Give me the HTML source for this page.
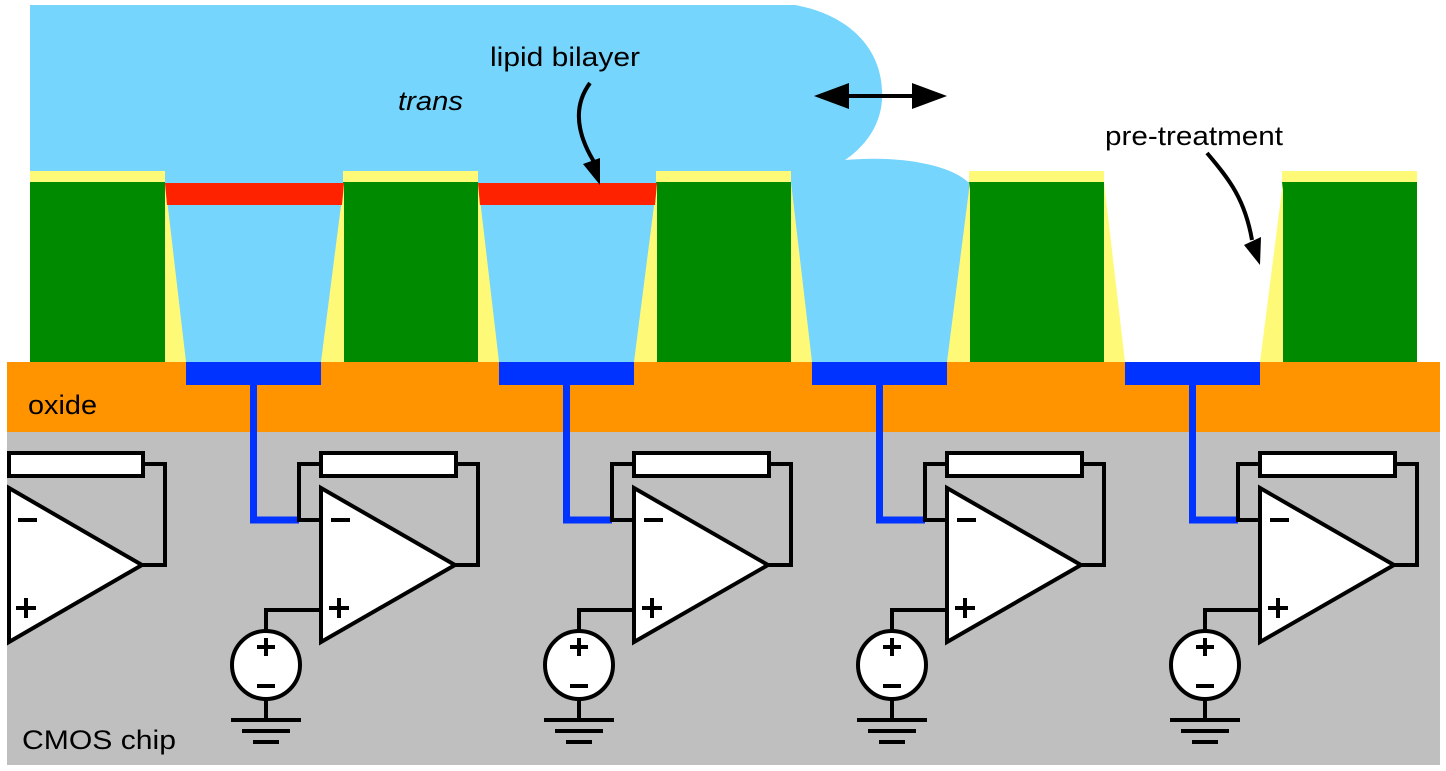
<!DOCTYPE html>
<html><head><meta charset="utf-8"><style>html,body{margin:0;padding:0;background:#fff}svg{display:block}text{font-family:"Liberation Sans",Arial,sans-serif}</style></head><body>
<svg width="1446" height="771" viewBox="0 0 1446 771" xmlns="http://www.w3.org/2000/svg">
<defs>
<g id="pillar"><rect x="30" y="171" width="135" height="12" fill="#fefa78"/><rect x="30" y="182" width="135" height="180" fill="#008a00"/></g>
<g id="wedges"><polygon points="165,182 186,362 165,362" fill="#fefa78"/><polygon points="344,182 321,362 344,362" fill="#fefa78"/><rect x="186" y="362" width="135" height="23" fill="#0033ff"/><rect x="250" y="380" width="7" height="140" fill="#0033ff"/><polyline points="253.5,385 253.5,520 299,520" fill="none" stroke="#0033ff" stroke-width="7"/></g>
<g id="amp" stroke="#000" stroke-width="4" fill="none">
<rect x="321" y="453" width="135" height="23" fill="#fff"/>
<polyline points="321,464 299,464 299,520 321,520"/>
<polyline points="456,464 478,464 478,565 455,565"/>
<polygon points="321,488 455,565 321,642" fill="#fff"/>
<line x1="331" y1="520" x2="350" y2="520"/>
<line x1="329" y1="608" x2="349" y2="608"/><line x1="339" y1="598" x2="339" y2="618"/>
<polyline points="321,610 266,610 266,630"/>
<circle cx="266" cy="665" r="34" fill="#fff"/>
<line x1="257" y1="647" x2="275" y2="647"/><line x1="266" y1="638" x2="266" y2="656"/>
<line x1="257" y1="686" x2="275" y2="686"/>
<line x1="266" y1="699" x2="266" y2="720"/>
<line x1="231" y1="720" x2="301" y2="720"/><line x1="242" y1="731" x2="290" y2="731"/><line x1="253" y1="742" x2="279" y2="742"/>
</g>
</defs>
<path d="M30,5 L795,5 C850,15 885,50 882,100 C880,130 860,150 845,160 C900,155 950,165 968,182 L30,182 Z" fill="#75d5fd"/>
<rect x="165" y="182" width="179" height="180" fill="#75d5fd"/>
<rect x="478" y="182" width="179" height="180" fill="#75d5fd"/>
<rect x="791" y="182" width="179" height="180" fill="#75d5fd"/>
<use href="#pillar"/><use href="#pillar" x="313"/><use href="#pillar" x="626"/><use href="#pillar" x="939"/><use href="#pillar" x="1252"/>
<rect x="7" y="432" width="1433" height="333" fill="#bfbfbf"/>
<rect x="7" y="362" width="1433" height="70" fill="#ff9300"/>
<use href="#wedges"/><use href="#wedges" x="313"/><use href="#wedges" x="626"/><use href="#wedges" x="939"/>
<polygon points="165,183 344,183 342,205 167,205" fill="#ff2200"/>
<polygon points="478,183 657,183 655,205 480,205" fill="#ff2200"/>
<use href="#amp"/><use href="#amp" x="313"/><use href="#amp" x="626"/><use href="#amp" x="939"/>
<g stroke="#000" stroke-width="4" fill="none">
<rect x="9" y="453" width="134" height="23" fill="#fff"/>
<polyline points="143,464 165,464 165,565 142,565"/>
<polygon points="9,488 142,565 9,642" fill="#fff"/>
<line x1="18" y1="520" x2="37" y2="520"/>
<line x1="16" y1="608" x2="36" y2="608"/><line x1="26" y1="598" x2="26" y2="618"/>
</g>
<g stroke="#000" stroke-width="4" fill="none"><line x1="840" y1="96" x2="920" y2="96"/>
<path d="M590,83 C570,110 580,140 596,165"/><path d="M1207,153 C1230,180 1245,200 1252,240"/></g>
<polygon points="814,96 849,83 849,109" fill="#000"/><polygon points="947,96 912,83 912,109" fill="#000"/>
<polygon points="583,164 600,158 600,185" fill="#000"/><polygon points="1244,245 1261,237 1260,265" fill="#000"/>
<text x="490" y="66" font-size="27" textLength="150" lengthAdjust="spacingAndGlyphs">lipid bilayer</text>
<text x="398" y="110" font-size="27" font-style="italic" textLength="65" lengthAdjust="spacingAndGlyphs">trans</text>
<text x="1105" y="145" font-size="27" textLength="178" lengthAdjust="spacingAndGlyphs">pre-treatment</text>
<text x="28" y="414" font-size="27" textLength="69" lengthAdjust="spacingAndGlyphs">oxide</text>
<text x="22" y="749" font-size="27" textLength="154" lengthAdjust="spacingAndGlyphs">CMOS chip</text>
</svg>
</body></html>
